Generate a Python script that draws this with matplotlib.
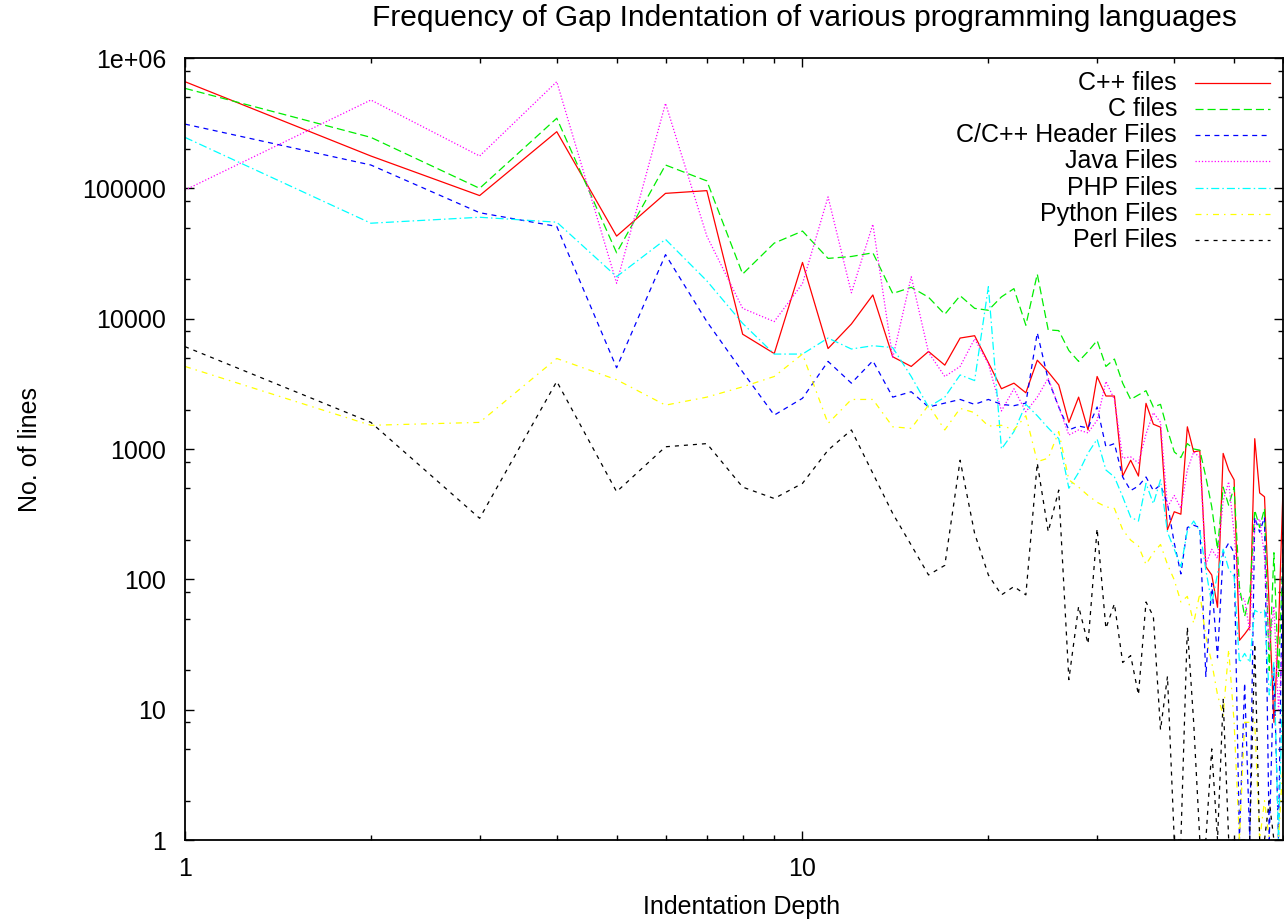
#!/usr/bin/env python3
"""Line counts per indentation depth for several languages, log-log."""

import matplotlib

matplotlib.use("Agg")
import matplotlib.pyplot as plt
from matplotlib.ticker import FixedLocator, FixedFormatter, LogLocator, NullFormatter

plt.rcParams["font.family"] = ["Liberation Sans", "DejaVu Sans"]
plt.rcParams["lines.scale_dashes"] = False

depth = list(range(1, 61))

cpp_files = [
    658000, 177000, 88000, 272000, 43000, 91500, 96000, 7600, 5400, 27000,
    5900, 9100, 15200, 5100, 4300, 5600, 4400, 7100, 7400, 4600,
    2900, 3200, 2700, 4800, 3900, 3100, 1600, 2500, 1400, 3600,
    2550, 2550, 620, 820, 620, 2240, 1550, 1470, 240, 330,
    316, 1480, 950, 970, 125, 108, 61, 925, 690, 580,
    34, 38, 43, 1200, 460, 430, 60, 8, 41, 500,
]
c_files = [
    585000, 246000, 100000, 345000, 32000, 151000, 114000, 22000, 38000, 47000,
    29000, 30000, 32000, 15600, 17400, 14600, 10800, 15000, 12000, 11600,
    14700, 17000, 8900, 22000, 8200, 8100, 5700, 4700, 5600, 6800,
    4300, 4900, 3200, 2400, 2600, 2800, 2100, 2200, 1400, 950,
    860, 1100, 1000, 980, 610, 360, 170, 510, 370, 510,
    88, 52, 74, 340, 250, 350, 20, 160, 18, 160,
]
header_files = [
    311000, 151000, 65000, 51000, 4200, 31000, 9500, 3900, 1820, 2450,
    4700, 3200, 4750, 2500, 2750, 2100, 2250, 2400, 2200, 2400,
    2200, 2150, 2250, 7800, 3400, 2100, 1400, 1500, 1450, 2100,
    1040, 1100, 610, 480, 520, 610, 480, 530, 380, 190,
    110, 250, 260, 250, 18, 93, 25, 160, 190, 160,
    1, 16, 1, 300, 230, 300, 1, 21, 1, 230,
]
java_files = [
    97000, 476000, 177000, 658000, 18700, 449000, 43000, 12000, 9500, 18600,
    86000, 15800, 53000, 5000, 21000, 5500, 3600, 4300, 7000, 4500,
    1960, 2900, 1930, 2500, 3500, 2100, 1280, 1400, 1330, 1660,
    3300, 2400, 850, 870, 780, 1300, 1900, 1600, 360, 440,
    350, 690, 950, 860, 130, 170, 145, 400, 560, 225,
    74, 70, 40, 270, 290, 150, 30, 62, 10, 32,
]
php_files = [
    246000, 54000, 60000, 55000, 21000, 40600, 19500, 9200, 5350, 5350,
    7100, 5850, 6200, 6000, 3600, 2100, 2500, 3700, 3350, 17600,
    1000, 1360, 2200, 1800, 1450, 1200, 500, 660, 930, 1190,
    690, 610, 430, 300, 280, 545, 380, 580, 230, 170,
    125, 235, 280, 235, 118, 65, 110, 170, 120, 105,
    23, 27, 23, 58, 55, 58, 13, 23, 1, 18,
]
python_files = [
    4300, 1520, 1600, 4950, 3400, 2170, 2500, 3000, 3600, 5350,
    1570, 2400, 2400, 1480, 1440, 2170, 1400, 2050, 1900, 1500,
    1520, 1400, 1800, 800, 850, 1360, 580, 510, 440, 390,
    360, 350, 240, 200, 180, 130, 160, 185, 130, 99,
    67, 74, 46, 78, 36, 23, 13, 9, 29, 8,
    1, 8, 8, 8, 1, 2, 1, 1, 1, 4,
]
perl_files = [
    6100, 1600, 294, 3300, 470, 1040, 1100, 510, 417, 545,
    980, 1400, 650, 320, 183, 108, 128, 820, 225, 108,
    76, 88, 76, 780, 232, 484, 17, 62, 32, 245,
    42, 65, 23, 26, 13, 67, 52, 7, 18, 1,
    1, 43, 8, 1, 1, 5, 1, 12, 1, 1,
    1, 1, 1, 32, 1, 1, 2, 1, 1, 1,
]

series_labels = [
    "C++ files",
    "C files",
    "C/C++ Header Files",
    "Java Files",
    "PHP Files",
    "Python Files",
    "Perl Files",
]
series_values = [cpp_files, c_files, header_files, java_files,
                 php_files, python_files, perl_files]

# gnuplot-style default line types: colour plus dash pattern (points)
LINE_STYLES = [
    ("#ff0000", None),
    ("#00ee00", (5.8, 2.9)),
    ("#0000ff", (3.6, 3.2)),
    ("#ff00ff", (0.9, 1.4)),
    ("#00ffff", (5.8, 2.2, 1.1, 2.2)),
    ("#ffff00", (4.3, 3.6, 1.1, 3.6)),
    ("#000000", (2.9, 3.6)),
]

FS = 18

fig = plt.figure(figsize=(12.84, 9.22), dpi=100)
W, H = 1284.0, 922.0
left, right, top, bottom = 185, 1283, 58, 840
ax = fig.add_axes([left / W, 1 - bottom / H, (right - left) / W, (bottom - top) / H])

for values, (color, dashes) in zip(series_values, LINE_STYLES):
    line, = ax.plot(depth, values, color=color, linewidth=0.9)
    if dashes is not None:
        line.set_dashes(dashes)

ax.set_xscale("log")
ax.set_yscale("log")
ax.set_xlim(1, 60)
ax.set_ylim(1, 1e6)

ax.xaxis.set_major_locator(FixedLocator([1, 10]))
ax.xaxis.set_major_formatter(FixedFormatter(["1", "10"]))
ax.xaxis.set_minor_locator(LogLocator(base=10, subs=range(2, 10)))
ax.xaxis.set_minor_formatter(NullFormatter())

y_major = [1, 10, 100, 1000, 10000, 100000, 1000000]
y_labels = ["1", "10", "100", "1000", "10000", "100000", "1e+06"]
ax.yaxis.set_major_locator(FixedLocator(y_major))
ax.yaxis.set_major_formatter(FixedFormatter(y_labels))
ax.yaxis.set_minor_locator(LogLocator(base=10, subs=(2, 5, 8)))
ax.yaxis.set_minor_formatter(NullFormatter())

ax.tick_params(which="both", direction="in", top=True, right=True, width=1.0, colors="black")
ax.tick_params(which="major", length=6.5)
ax.tick_params(which="minor", length=3.6)
ax.tick_params(axis="x", which="major", labelsize=FS, pad=12)
ax.tick_params(axis="y", which="major", labelsize=FS, pad=13.5)
for spine in ax.spines.values():
    spine.set_linewidth(1.3)
    spine.set_color("black")

fig.text(804 / W, 1 - 18 / H, "Frequency of Gap Indentation of various programming languages",
         ha="center", va="center", fontsize=21.5)
fig.text(742 / W, 1 - 907 / H, "Indentation Depth", ha="center", va="center", fontsize=FS)
fig.text(30 / W, 1 - 449 / H, "No. of lines", ha="center", va="center",
         rotation=90, fontsize=FS)

# key in the top right corner: right-aligned titles with sample lines after them
key_text_x = (1177 - left) / (right - left)
key_line_x = [(1195 - left) / (right - left), (1270 - left) / (right - left)]
row0 = (bottom - 82.7) / (bottom - top)
row_step = 26.2 / (bottom - top)
for i, (label, (color, dashes)) in enumerate(zip(series_labels, LINE_STYLES)):
    yk = row0 - i * row_step
    ax.text(key_text_x, yk, label, transform=ax.transAxes, ha="right", va="center",
            fontsize=FS)
    sample, = ax.plot(key_line_x, [yk, yk], transform=ax.transAxes, color=color,
                      linewidth=0.9, clip_on=False)
    if dashes is not None:
        sample.set_dashes(dashes)

fig.savefig("out.png", dpi=100, facecolor="white")
